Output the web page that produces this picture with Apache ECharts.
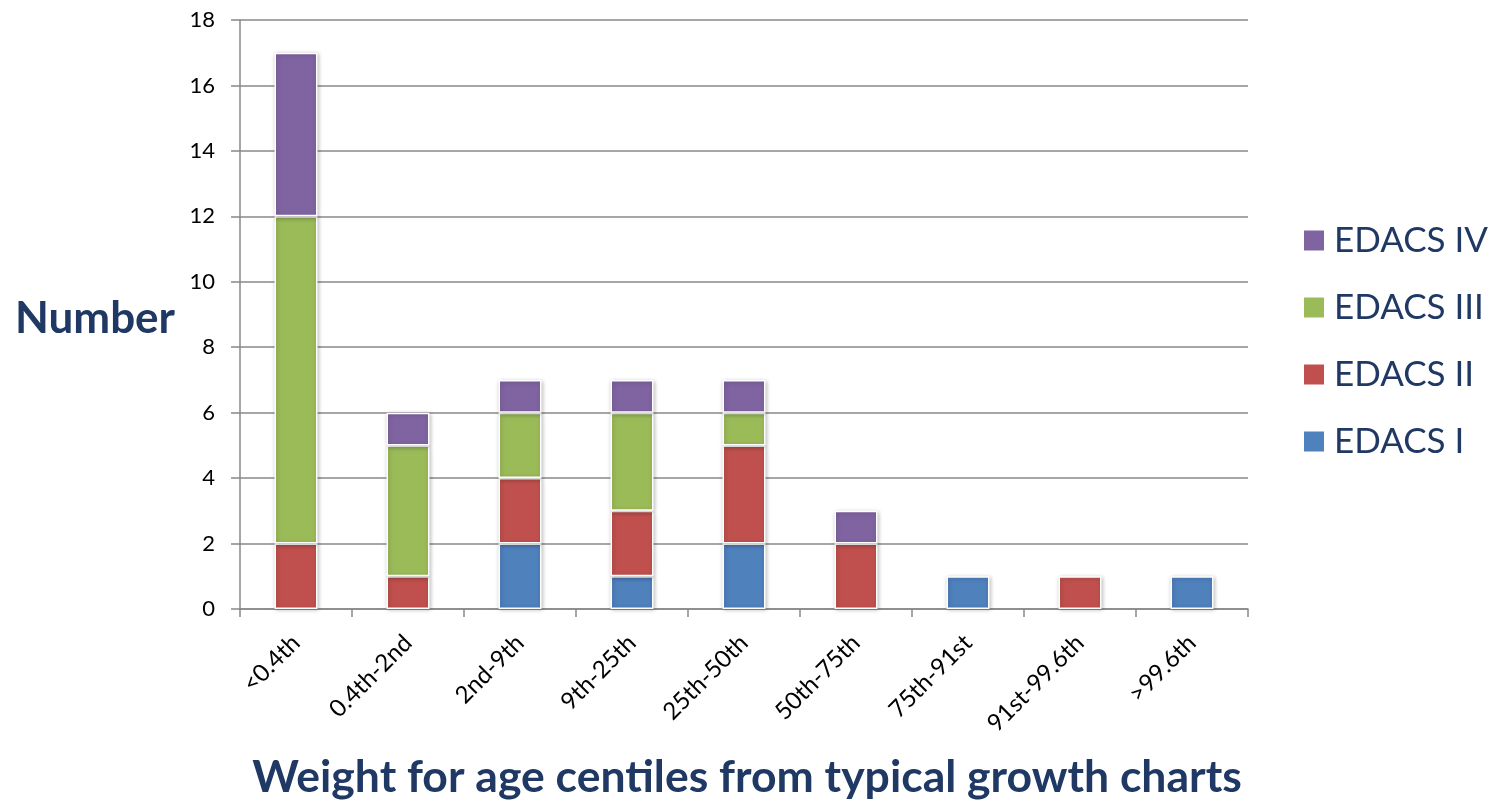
<!DOCTYPE html>
<html><head><meta charset="utf-8">
<script src="https://cdn.jsdelivr.net/npm/echarts@6/dist/echarts.min.js"></script>
<style>html,body{margin:0;padding:0;background:#fff}#c{width:1494px;height:802px}</style>
</head><body><div id="c"></div>
<script>
const categories = ['<0.4th','0.4th-2nd','2nd-9th','9th-25th','25th-50th','50th-75th','75th-91st','91st-99.6th','>99.6th'];
const edacsI   = [0,0,2,1,2,0,1,0,1];
const edacsII  = [2,1,2,2,3,2,0,1,0];
const edacsIII = [10,4,2,3,1,0,0,0,0];
const edacsIV  = [5,1,1,1,1,1,0,0,0];
const yTicks = [0,2,4,6,8,10,12,14,16,18];

const navy = '#1F3864';
const font = 'Lato, "Open Sans", sans-serif';
const chart = echarts.init(document.getElementById('c'));
function ser(name, data, color){
  return {name, type:'bar', stack:'s', data: data.map(v => v === 0 ? null : v), barWidth:43,
    itemStyle:{color, borderColor:'#fff', borderWidth:1.5, shadowBlur:4, shadowColor:'rgba(0,0,0,0.25)', shadowOffsetX:1, shadowOffsetY:1}};
}
chart.setOption({
  animation:false,
  textStyle:{fontFamily:font},
  grid:{left:240, right:246, top:20, bottom:193, containLabel:false},
  title:[
    {text:'Number', left:10, top:292, textStyle:{fontFamily:font, fontSize:44, fontWeight:'bold', color:navy}},
    {text:'Weight for age centiles from typical growth charts', left:'center', top:750, textStyle:{fontFamily:font, fontSize:44.5, fontWeight:'bold', color:navy}}
  ],
  legend:{orient:'vertical', left:1297, top:218, itemWidth:22, itemHeight:22, itemGap:32,
    icon:'rect', data:['EDACS IV','EDACS III','EDACS II','EDACS I'],
    textStyle:{fontFamily:font, fontSize:35, color:navy, padding:[0,0,0,4]}},
  xAxis:{type:'category', data:categories,
    axisLine:{lineStyle:{color:'#888', width:1.5}},
    axisTick:{show:true, alignWithLabel:false, length:8, lineStyle:{color:'#888', width:1.5}},
    axisLabel:{rotate:45, fontSize:24, color:'#000', margin:30, fontFamily:font, interval:0}},
  yAxis:{type:'value', min:yTicks[0], max:yTicks[yTicks.length-1], interval:2,
    axisLine:{show:true, lineStyle:{color:'#888', width:1.5}},
    axisTick:{show:true, length:9, lineStyle:{color:'#888', width:1.5}},
    splitLine:{lineStyle:{color:'#888', width:1.5}},
    axisLabel:{fontSize:22, color:'#000', margin:25, fontFamily:font}},
  series:[
    ser('EDACS I', edacsI, '#4F81BD'),
    ser('EDACS II', edacsII, '#C0504D'),
    ser('EDACS III', edacsIII, '#9BBB59'),
    ser('EDACS IV', edacsIV, '#8064A2')
  ]
});
</script></body></html>
